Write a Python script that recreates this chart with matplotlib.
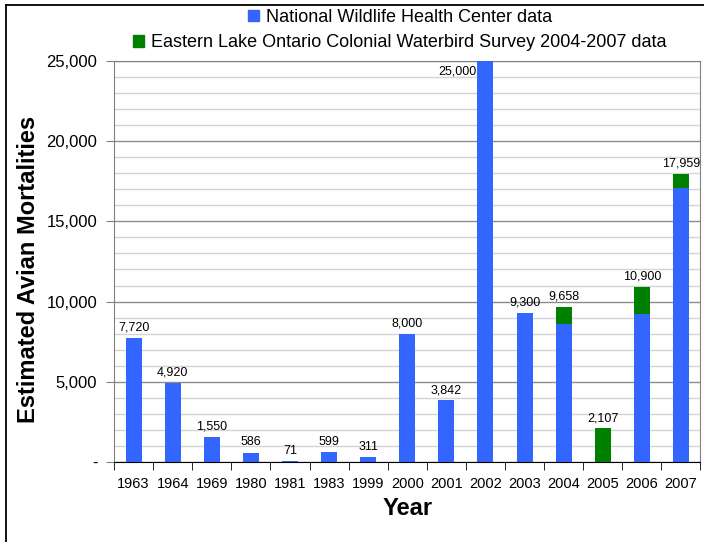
import numpy as np
import matplotlib
matplotlib.use('Agg')
import matplotlib.pyplot as plt
from matplotlib.lines import Line2D
from matplotlib.patches import Patch
from matplotlib.ticker import MultipleLocator, FuncFormatter

plt.rcParams['font.family'] = ['Liberation Sans', 'DejaVu Sans']

years = ['1963', '1964', '1969', '1980', '1981', '1983', '1999', '2000',
         '2001', '2002', '2003', '2004', '2005', '2006', '2007']
nwhc = [7720, 4920, 1550, 586, 71, 599, 311, 8000,
        3842, 25000, 9300, 8600, 0, 9250, 17100]
elocws = [0, 0, 0, 0, 0, 0, 0, 0,
          0, 0, 0, 1058, 2107, 1650, 859]
totals = [7720, 4920, 1550, 586, 71, 599, 311, 8000,
          3842, 25000, 9300, 9658, 2107, 10900, 17959]

blue = '#3366FF'
green = '#008000'

fig = plt.figure(figsize=(7.04, 5.42), dpi=100)
ax = fig.add_axes([0.162, 0.1476, 0.833, 0.74])

x = np.arange(len(years))
ax.bar(x, nwhc, width=0.41, color=blue, zorder=3)
ax.bar(x, elocws, width=0.41, bottom=nwhc, color=green, zorder=3)

ax.set_ylim(0, 25000)
ax.set_xlim(-0.5, len(years) - 0.5)
ax.yaxis.set_major_locator(MultipleLocator(5000))
ax.yaxis.set_minor_locator(MultipleLocator(1000))
ax.yaxis.set_major_formatter(FuncFormatter(lambda v, p: '-' if v == 0 else f'{int(v):,}'))
ax.grid(which='minor', axis='y', color='#d4d4d4', linewidth=1.0, zorder=0)
ax.grid(which='major', axis='y', color='#8c8c8c', linewidth=1.0, zorder=0)
ax.tick_params(axis='y', which='minor', length=0)
ax.tick_params(axis='y', which='major', length=6, color='#808080', labelsize=12, pad=6)

ax.set_xticks(x)
ax.set_xticklabels(years)
ax.set_xticks(np.arange(len(years) + 1) - 0.5, minor=True)
ax.tick_params(axis='x', which='major', length=0, labelsize=10.5, pad=11)
ax.tick_params(axis='x', which='minor', length=6, color='black')

for s in ['left', 'right', 'top']:
    ax.spines[s].set_color('#808080')
ax.spines['bottom'].set_color('black')
ax.spines['bottom'].set_zorder(4)

for xi, t in zip(x, totals):
    lbl = f'{t:,}'
    if t >= 25000:
        ax.annotate(lbl, (xi - 0.24, t), xytext=(0, -3), textcoords='offset points',
                    ha='right', va='top', fontsize=9, zorder=5)
    else:
        ax.annotate(lbl, (xi, t), xytext=(0, 3), textcoords='offset points',
                    ha='center', va='bottom', fontsize=9, zorder=5, annotation_clip=False)

ax.set_xlabel('Year', fontsize=17, fontweight='bold', labelpad=4)
ax.set_ylabel('Estimated Avian Mortalities', fontsize=17, fontweight='bold')
ax.yaxis.set_label_coords(-0.126, 0.479)

leg1 = fig.legend(handles=[Patch(color=blue, label='National Wildlife Health Center data')],
                  loc='center', bbox_to_anchor=(0.568, 0.968), frameon=False, fontsize=13,
                  handlelength=0.6, handleheight=0.6, handletextpad=0.4, borderpad=0)
leg2 = fig.legend(handles=[Patch(color=green, label='Eastern Lake Ontario Colonial Waterbird Survey 2004-2007 data')],
                  loc='center', bbox_to_anchor=(0.568, 0.921), frameon=False, fontsize=13,
                  handlelength=0.6, handleheight=0.6, handletextpad=0.4, borderpad=0)

fig.add_artist(Line2D([6 / 704, 6 / 704], [0, 1 - 5 / 542], color='black', linewidth=1.3))
fig.add_artist(Line2D([6 / 704, 1], [1 - 5 / 542, 1 - 5 / 542], color='black', linewidth=1.3))

fig.savefig('out.png', dpi=100)
